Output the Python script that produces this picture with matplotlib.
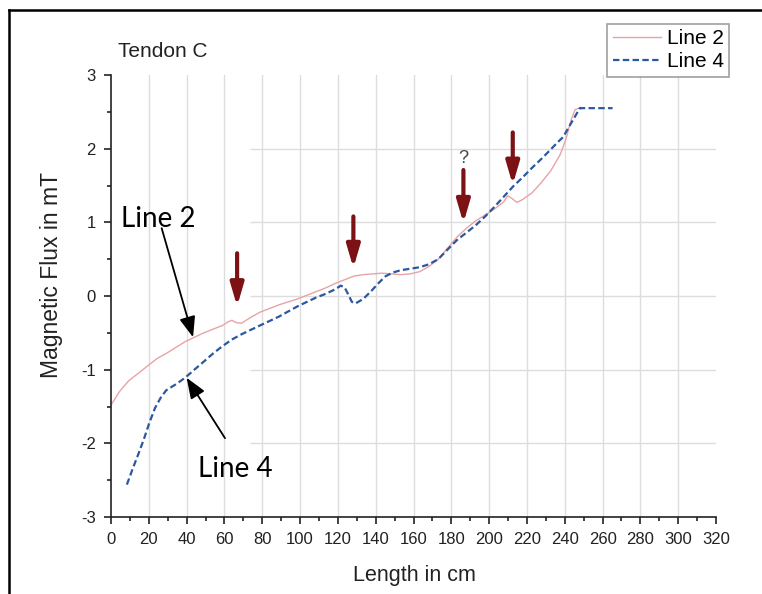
import numpy as np
import matplotlib
matplotlib.use("Agg")
import matplotlib.pyplot as plt
from matplotlib.lines import Line2D
from matplotlib.ticker import MultipleLocator

plt.rcParams['font.family'] = ['Liberation Sans', 'DejaVu Sans']
plt.rcParams['axes.unicode_minus'] = False

#------- Data -------
line2_x = [0, 4.4, 9.4, 14.4, 19.3, 24.3, 29.2, 34.2, 39.2, 44.1, 49.1, 54.0, 59.0, 62.0,
           64.0, 66.0, 69.0, 73.9, 78.8, 83.8, 88.8, 93.7, 98.7, 103.6, 108.6, 113.6,
           118.5, 123.5, 128.4, 133.4, 138.4, 143.3, 148.3, 153.2, 158.2, 163.2, 168.1,
           173.1, 178.0, 183.0, 188.0, 192.9, 197.9, 202.8, 207.8, 209.8, 211.8, 214.7,
           217.7, 222.7, 227.6, 232.6, 237.6, 240.5, 243.5, 245.5, 248.5]
line2_y = [-1.48, -1.30, -1.15, -1.05, -0.95, -0.85, -0.78, -0.70, -0.62, -0.56, -0.50,
           -0.45, -0.40, -0.35, -0.33, -0.36, -0.37, -0.29, -0.22, -0.17, -0.12, -0.08,
           -0.04, 0.01, 0.06, 0.11, 0.17, 0.22, 0.27, 0.29, 0.30, 0.31, 0.30, 0.29, 0.30,
           0.33, 0.40, 0.50, 0.65, 0.80, 0.92, 1.02, 1.10, 1.18, 1.28, 1.36, 1.33, 1.27,
           1.31, 1.40, 1.54, 1.70, 1.92, 2.12, 2.40, 2.53, 2.56]

line4_x = [8.4, 11.4, 14.4, 17.3, 20.3, 23.3, 26.3, 29.2, 34.2, 39.2, 44.1, 49.1, 54.0,
           59.0, 64.0, 69.0, 73.9, 78.8, 83.8, 88.8, 93.7, 98.7, 103.6, 108.6, 113.6,
           118.5, 121.5, 123.5, 125.5, 127.4, 129.4, 133.4, 137.4, 141.3, 145.3, 149.3,
           153.2, 158.2, 163.2, 168.1, 173.1, 178.0, 183.0, 188.0, 192.9, 197.9, 202.8,
           207.8, 212.8, 217.7, 222.7, 227.6, 232.6, 236.0, 239.2, 243.0, 248.0, 255.0, 265.3]
line4_y = [-2.56, -2.35, -2.15, -1.95, -1.72, -1.52, -1.38, -1.28, -1.20, -1.11, -1.00,
           -0.89, -0.78, -0.68, -0.59, -0.52, -0.46, -0.40, -0.34, -0.28, -0.21, -0.14,
           -0.08, -0.02, 0.03, 0.09, 0.14, 0.12, 0.02, -0.08, -0.10, -0.04, 0.06, 0.17,
           0.27, 0.32, 0.35, 0.37, 0.39, 0.43, 0.50, 0.63, 0.76, 0.86, 0.96, 1.08, 1.21,
           1.35, 1.49, 1.61, 1.74, 1.86, 1.99, 2.08, 2.16, 2.33, 2.55, 2.55, 2.55]

# red marker arrows: x position, top and tip
arrow_x = [66.7, 128.2, 186.4, 212.5]
arrow_top = [0.58, 1.08, 1.71, 2.22]
arrow_tip = [-0.14, 0.38, 0.99, 1.51]

x_ticks = list(range(0, 321, 20))
y_ticks = [-3, -2, -1, 0, 1, 2, 3]

# ------ Figure ------
fig = plt.figure(figsize=(7.62, 5.94), dpi=100)
ax = fig.add_axes([111 / 762, 77 / 594, 605 / 762, 442 / 594])

ax.set_xlim(0, 320)
ax.set_ylim(-3, 3)

# grid: vertical lines full height, horizontal ones only to the right
for gx in x_ticks[1:-1]:
    ax.axvline(gx, color='#dddddd', lw=1, zorder=0)
for gy in y_ticks[1:-1]:
    ax.hlines(gy, 73.5, 320, color='#dddddd', lw=1, zorder=0)

l2, = ax.plot(line2_x, line2_y, color='#e8a3a6', lw=1.0, label='Line 2')
l4, = ax.plot(line4_x, line4_y, color='#2c58a0', lw=1.6, dashes=(2.9, 1.5), label='Line 4')

for xa, yt, yb in zip(arrow_x, arrow_top, arrow_tip):
    ax.annotate('', xy=(xa, yb), xytext=(xa, yt),
                arrowprops=dict(arrowstyle='-|>,head_width=0.22,head_length=0.75',
                                lw=3.0, color='#7d1214', mutation_scale=18,
                                shrinkA=0, shrinkB=0))
ax.text(186.4, 1.86, '?', ha='center', va='center', fontsize=13, color='#444444')

# Line labels with pointer arrows
ax.text(5.1, 0.94, 'Line 2', family=['Lato', 'DejaVu Sans'], fontsize=20,
        ha='left', va='baseline')
ax.annotate('', xy=(43.4, -0.56), xytext=(26.8, 0.92),
            arrowprops=dict(arrowstyle='-|>,head_width=0.35,head_length=0.9',
                            lw=1.3, color='black', mutation_scale=14,
                            shrinkA=0, shrinkB=0))
ax.text(46, -2.46, 'Line 4', family=['Lato', 'DejaVu Sans'], fontsize=20,
        ha='left', va='baseline')
ax.annotate('', xy=(40.0, -1.11), xytext=(60.3, -1.93),
            arrowprops=dict(arrowstyle='-|>,head_width=0.35,head_length=0.9',
                            lw=1.3, color='black', mutation_scale=14,
                            shrinkA=0, shrinkB=0))

ax.text(3.7, 3.32, 'Tendon C', fontsize=15, ha='left', va='center',
        color='#222222', clip_on=False)

# axes styling
for s in ['top', 'right']:
    ax.spines[s].set_visible(False)
for s in ['left', 'bottom']:
    ax.spines[s].set_linewidth(1.2)
    ax.spines[s].set_color('#222222')

ax.set_xticks(x_ticks)
ax.set_yticks(y_ticks)
ax.xaxis.set_minor_locator(MultipleLocator(10))
ax.yaxis.set_minor_locator(MultipleLocator(0.5))
ax.tick_params(which='major', direction='out', length=5, width=1.2, color='#222222',
               labelsize=12, labelcolor='#222222', pad=6)
ax.tick_params(which='minor', direction='out', length=3, width=1.2, color='#222222')

ax.set_xlabel('Length in cm', fontsize=15.5, color='#222222')
ax.set_ylabel('Magnetic Flux in mT', fontsize=16.5, color='#222222')
ax.xaxis.set_label_coords(0.5017, -0.108)
ax.yaxis.set_label_coords(-0.08, 0.547)

leg = fig.legend(handles=[l2, l4], loc='upper right',
                 bbox_to_anchor=(729 / 762, 1 - 24 / 594), borderaxespad=0,
                 fontsize=15, frameon=True, fancybox=False, handlelength=2.3,
                 handletextpad=0.3, labelspacing=0.2, borderpad=0.25)
leg.get_frame().set_edgecolor('#888888')
leg.get_frame().set_linewidth(1.2)

# outer frame (top and left only)
fig.add_artist(Line2D([9 / 762, 1], [1 - 10 / 594, 1 - 10 / 594], color='black', lw=1.8))
fig.add_artist(Line2D([9 / 762, 9 / 762], [0, 1 - 10 / 594], color='black', lw=1.8))

fig.savefig('out.png', dpi=100)
